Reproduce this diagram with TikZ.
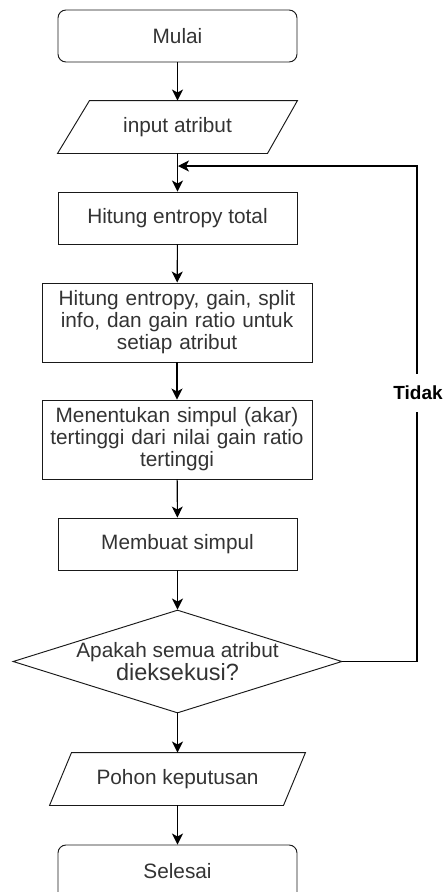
\documentclass[tikz,border=0pt]{standalone}
\usepackage{fontspec}
\setmainfont{Liberation Sans}
\usetikzlibrary{shapes.geometric,arrows.meta,calc}
\definecolor{txt}{HTML}{333333}
\tikzset{
  x=1pt, y=-1pt,
  base/.style={draw=black!90, line width=0.95pt, inner sep=0pt, align=center,
    text=txt, font=\fontsize{20.8}{22}\selectfont},
  term/.style={base, rounded corners=8pt, minimum width=239pt, minimum height=52pt},
  proc/.style={base, minimum width=239pt, minimum height=52pt},
  bigproc/.style={base, minimum width=270pt, minimum height=79pt, text width=262pt},
  io/.style={base, draw=none, minimum height=52pt},
  dec/.style={base, diamond, aspect=3.19, minimum width=329pt, minimum height=103pt},
  arr/.style={draw=black, line width=1.1pt, -{Stealth[length=11pt,width=11pt,inset=3pt]}},
  lin/.style={draw=black!90, line width=0.95pt}
}
\begin{document}
\begin{tikzpicture}
\useasboundingbox (0,0) rectangle (445,892);
\clip (0,0) rectangle (445,892);
\node[term] (mulai) at (177.5,36) {Mulai};
\node[io, minimum width=239pt] (inp) at (177.5,127) {input atribut};
\draw[lin] ($(inp.north west)+(32,0)$) -- (inp.north east) -- ($(inp.south east)+(-30,0)$) -- (inp.south west) -- cycle;
\node[proc] (ht) at (177.5,218) {Hitung entropy total};
\node[bigproc] (hg) at (177,322.5) {Hitung entropy, gain, split\\info, dan gain ratio untuk\\setiap atribut};
\node[bigproc] (mk) at (177,439.5) {Menentukan simpul (akar)\\tertinggi dari nilai gain ratio\\tertinggi};
\node[proc] (ms) at (177.5,544) {Membuat simpul};
\node[dec] (dc) at (177.5,661.5) {};
\node[text=txt, align=center, inner sep=0pt] at (177.5,661.5) {{\fontsize{20.8}{22}\selectfont Apakah semua atribut}\\[0pt]{\fontsize{23.5}{22}\selectfont dieksekusi?}};
\node[io, minimum width=255pt] (out) at (177.5,779) {Pohon keputusan};
\draw[lin] ($(out.north west)+(22,0)$) -- (out.north east) -- ($(out.south east)+(-22,0)$) -- (out.south west) -- cycle;
\node[term, minimum height=64pt] (sel) at (177.5,877) {};
\node[text=txt, font=\fontsize{20.8}{22}\selectfont, inner sep=0pt] (seltxt) at (177.5,871) {Selesai};
\coordinate (j) at (178,166);
\coordinate (r) at (417,166);
\draw[arr] (mulai) -- (inp);
\draw[arr] (inp) -- (ht);
\draw[arr] (ht) -- (hg);
\draw[arr] (hg) -- (mk);
\draw[arr] (mk) -- (ms);
\draw[arr] (ms) -- (dc);
\draw[arr] (dc) -- (out);
\draw[arr] (out) -- (sel);
\draw[arr] (dc.east) -| (r) -- (j);
\node[fill=white, text=black, font=\bfseries\fontsize{19}{20}\selectfont, inner sep=2pt, minimum height=38pt] (tidak) at (418,393) {Tidak};
\end{tikzpicture}
\end{document}
